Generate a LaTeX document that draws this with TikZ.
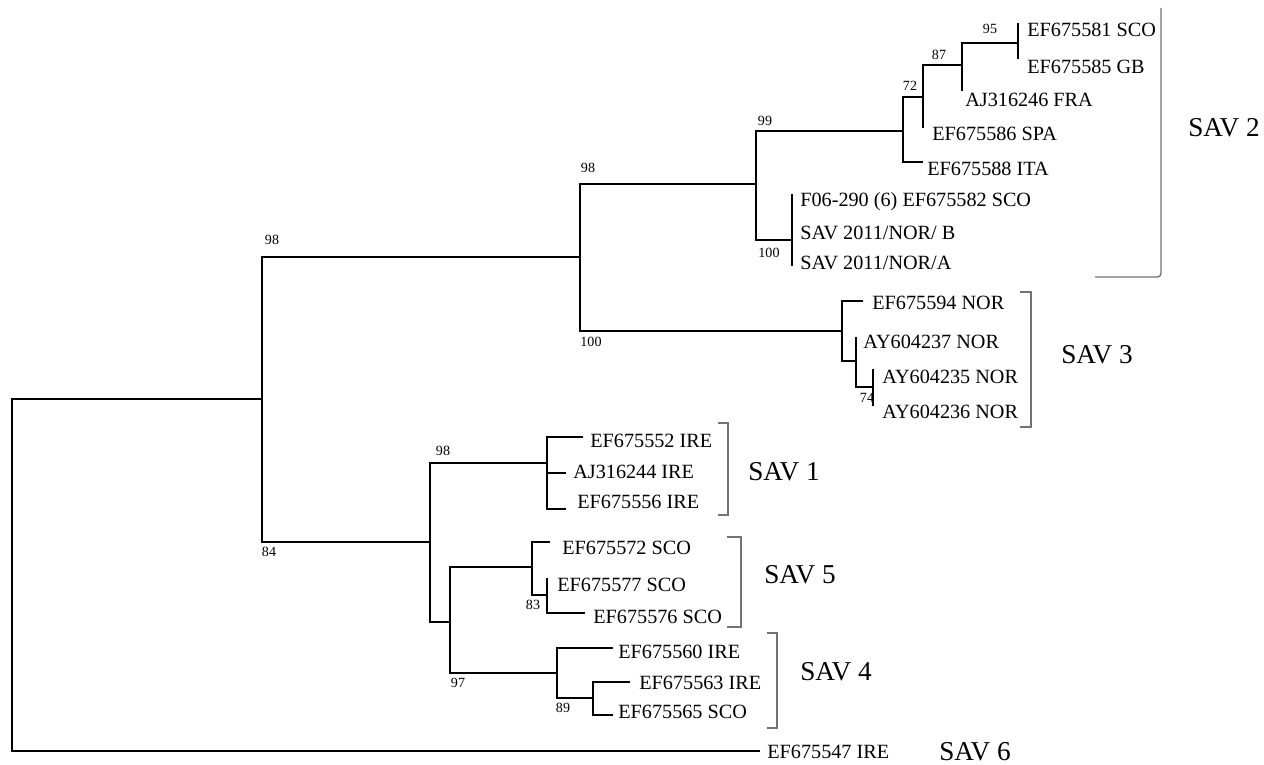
\documentclass[tikz,border=0pt]{standalone}
\usepackage{fontspec}
\setmainfont{Liberation Serif}
\usetikzlibrary{positioning}

\begin{document}
\begin{tikzpicture}[x=0.2mm, y=-0.2mm,
    branch/.style={line width=1.2pt, black},
    bracket/.style={line width=0.8pt, black!55},
    leaf/.style={anchor=west, inner sep=0pt, font=\fontsize{11.5}{12}\selectfont},
    boot/.style={inner sep=0pt, font=\fontsize{8}{8}\selectfont},
    group/.style={inner sep=0pt, font=\fontsize{15.5}{16}\selectfont}]
    \useasboundingbox (0,0) rectangle (1264,765);

    % Internal nodes
    \coordinate (root) at (12,575);
    \coordinate (nA) at (262,399);
    \coordinate (nB) at (580,257);
    \coordinate (nC) at (756,184);
    \coordinate (nD) at (903,131);
    \coordinate (nE) at (923,97);
    \coordinate (nF) at (962,65);
    \coordinate (nG) at (1018,43);
    \coordinate (nP) at (792,240);
    \coordinate (nQ) at (842,331);
    \coordinate (nR) at (856,361);
    \coordinate (nS) at (873,387);
    \coordinate (nH) at (430,542);
    \coordinate (nI) at (547,463);
    \coordinate (nJ) at (450,622);
    \coordinate (nK) at (532,567);
    \coordinate (nL) at (547,595);
    \coordinate (nM) at (557,673);
    \coordinate (nN) at (593,698);

    % Tips
    \coordinate (tG1) at (1018,23);
    \coordinate (tG2) at (1018,59);
    \coordinate (tF) at (962,91);
    \coordinate (tE) at (923,128);
    \coordinate (tD) at (923,162);
    \coordinate (tP1) at (792,194);
    \coordinate (tP2) at (792,233);
    \coordinate (tP3) at (792,266);
    \coordinate (tQ1) at (863,301);
    \coordinate (tR1) at (856,337);
    \coordinate (tS1) at (873,369);
    \coordinate (tS2) at (873,406);
    \coordinate (tI1) at (583,437);
    \coordinate (tI2) at (566,473);
    \coordinate (tI3) at (566,509);
    \coordinate (tK1) at (550,542);
    \coordinate (tL1) at (547,578);
    \coordinate (tL2) at (585,613);
    \coordinate (tM1) at (613,648);
    \coordinate (tN1) at (630,682);
    \coordinate (tN2) at (613,715);
    \coordinate (tout) at (760,751);

    % Branches
    \foreach \p/\c in {root/nA, root/tout, nA/nB, nA/nH, nB/nC, nB/nQ,
        nC/nD, nC/nP, nD/nE, nD/tD, nE/nF, nE/tE, nF/nG, nF/tF,
        nG/tG1, nG/tG2, nP/tP1, nP/tP2, nP/tP3, nQ/tQ1, nQ/nR,
        nR/tR1, nR/nS, nS/tS1, nS/tS2, nH/nI, nH/nJ, nI/tI1, nI/tI2,
        nI/tI3, nJ/nK, nJ/nM, nK/tK1, nK/nL, nL/tL1, nL/tL2,
        nM/tM1, nM/nN, nN/tN1, nN/tN2}
        \draw[branch] (\p) |- (\c);

    % Leaf labels
    \node[leaf] (lG1) at (1027,30) {EF675581 SCO};
    \node[leaf] (lG2) at (1027,67) {EF675585 GB};
    \node[leaf] (lF) at (965,100) {AJ316246 FRA};
    \node[leaf] (lE) at (932,134) {EF675586 SPA};
    \node[leaf] (lD) at (927,169) {EF675588 ITA};
    \node[leaf] (lP1) at (800,202) {F06-290 (6) EF675582 SCO};
    \node[leaf] (lP2) at (800,233) {SAV 2011/NOR/ B};
    \node[leaf] (lP3) at (800,263) {SAV 2011/NOR/A};
    \node[leaf] (lQ1) at (872,303) {EF675594 NOR};
    \node[leaf] (lR1) at (863,342) {AY604237 NOR};
    \node[leaf] (lS1) at (882,377) {AY604235 NOR};
    \node[leaf] (lS2) at (882,412) {AY604236 NOR};
    \node[leaf] (lI1) at (590,441) {EF675552 IRE};
    \node[leaf] (lI2) at (573,472) {AJ316244 IRE};
    \node[leaf] (lI3) at (577,502) {EF675556 IRE};
    \node[leaf] (lK1) at (562,548) {EF675572 SCO};
    \node[leaf] (lL1) at (557,585) {EF675577 SCO};
    \node[leaf] (lL2) at (593,617) {EF675576 SCO};
    \node[leaf] (lM1) at (618,652) {EF675560 IRE};
    \node[leaf] (lN1) at (639,683) {EF675563 IRE};
    \node[leaf] (lN2) at (618,712) {EF675565 SCO};
    \node[leaf] (lout) at (767,752) {EF675547 IRE};

    % Bootstrap values
    \node[boot] (bA) at (272,240) {98};
    \node[boot] (bA2) at (269,552) {84};
    \node[boot] (bB) at (588,168) {98};
    \node[boot] (bB2) at (591,342) {100};
    \node[boot] (bC) at (765,121) {99};
    \node[boot] (bP) at (769,253) {100};
    \node[boot] (bE) at (910,86) {72};
    \node[boot] (bF) at (939,55) {87};
    \node[boot] (bG) at (990,29) {95};
    \node[boot] (bS) at (867,398) {74};
    \node[boot] (bH) at (443,451) {98};
    \node[boot] (bL) at (533,605) {83};
    \node[boot] (bJ) at (458,683) {97};
    \node[boot] (bN) at (563,708) {89};

    % Groups
    \draw[bracket, rounded corners=2pt] (1161,8) |- (1095,277);
    \draw[bracket] (1020,292) -| (1031,427) -- (1020,427);
    \draw[bracket] (718,423) -| (728,515) -- (718,515);
    \draw[bracket] (727,537) -| (741,627) -- (727,627);
    \draw[bracket] (767,633) -| (777,728) -- (767,728);
    \node[group] (sav2) at (1224,128) {SAV 2};
    \node[group] (sav3) at (1097,355) {SAV 3};
    \node[group] (sav1) at (784,472) {SAV 1};
    \node[group] (sav5) at (800,575) {SAV 5};
    \node[group] (sav4) at (836,672) {SAV 4};
    \node[group] (sav6) at (975,752) {SAV 6};
\end{tikzpicture}
\end{document}
